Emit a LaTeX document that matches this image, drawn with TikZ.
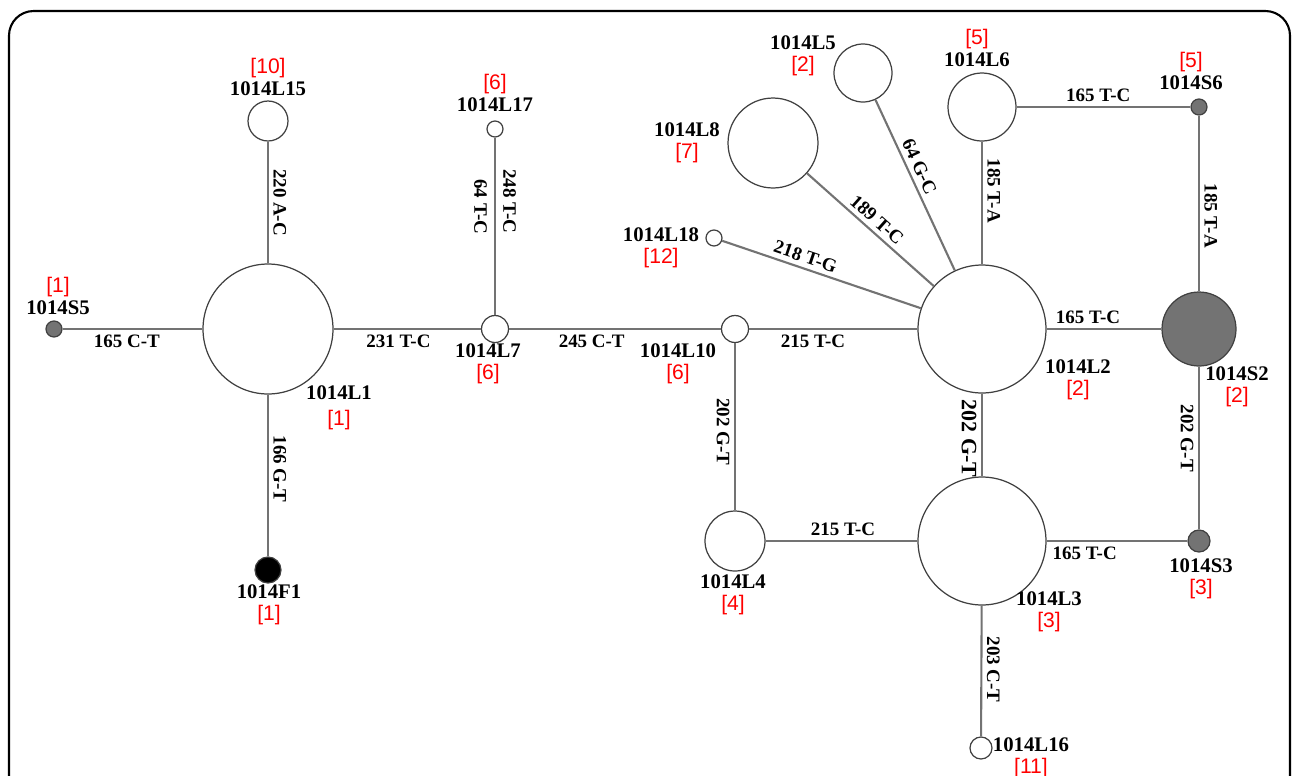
\documentclass[tikz,border=0pt]{standalone}
\usepackage{fontspec}
\setmainfont{Liberation Serif}
\newfontfamily\cntfont{Liberation Sans}
\newcommand{\cnt}[1]{{\cntfont\mdseries\fontsize{12}{13}\selectfont\color{red}[#1]}}

\begin{document}
\begin{tikzpicture}[x=0.02cm, y=-0.02cm,
      hap/.style={circle, draw=black!75, line width=0.7pt, fill=white, inner sep=0pt, minimum size=#1},
      sam/.style={hap=#1, fill=black!55},
      fly/.style={hap=#1, fill=black},
      link/.style={draw=black!55, line width=1.2pt},
      hname/.style={font=\bfseries\fontsize{11.8}{12.5}\selectfont, align=center, inner sep=0pt},
      mut/.style={font=\bfseries\fontsize{10.8}{12}\selectfont, inner sep=2.5pt},
      mutr/.style={mut, rotate=-90, anchor=south},
      mutl/.style={mut, rotate=-90, anchor=north}
      ]
      \useasboundingbox (0,0) rectangle (1292,775);
      \clip (0,0) rectangle (1292,775);
      \draw[line width=1.2pt, rounded corners=14] (9,800) -- (9,11) -- (1290,11) -- (1290,800);

      % haplotypes
      \node[hap=2.6cm] (L1) at (268,329) {};
      \node[hap=0.8cm] (L15) at (268,121) {};
      \node[sam=0.32cm] (S5) at (54,329) {};
      \node[fly=0.52cm] (F1) at (268,570) {};
      \node[hap=0.54cm] (L7) at (495,329) {};
      \node[hap=0.32cm] (L17) at (495,129) {};
      \node[hap=0.54cm] (L10) at (735,329) {};
      \node[hap=1.2cm] (L4) at (735,541) {};
      \node[hap=2.56cm] (L2) at (982,329) {};
      \node[hap=2.56cm] (L3) at (982,541) {};
      \node[hap=0.44cm] (L16) at (981,748) {};
      \node[hap=0.32cm] (L18) at (714,238) {};
      \node[hap=1.8cm] (L8) at (773,143) {};
      \node[hap=1.16cm] (L5) at (863,73) {};
      \node[hap=1.36cm] (L6) at (982,107) {};
      \node[sam=0.32cm] (S6) at (1199,107) {};
      \node[sam=1.48cm] (S2) at (1199,329) {};
      \node[sam=0.44cm] (S3) at (1199,541) {};

      % names and counts
      \node[hname] (tS5) at (58,296) {\cnt{1}\\1014S5};
      \node[hname] (tL15) at (268,77) {\cnt{10}\\1014L15};
      \node[hname] (tL17) at (495,93) {\cnt{6}\\1014L17};
      \node[hname] (tL5) at (803,56) {1014L5\\\cnt{2}};
      \node[hname] (tL6) at (977,48) {\cnt{5}\\1014L6};
      \node[hname] (tS6) at (1191,71) {\cnt{5}\\1014S6};
      \node[hname] (tL8) at (687,143) {1014L8\\\cnt{7}};
      \node[hname] (tL18) at (661,248) {1014L18\\\cnt{12}};
      \node[hname] (tL1) at (339,408) {1014L1\\[2pt]\cnt{1}};
      \node[hname] (tL7) at (488,364) {1014L7\\\cnt{6}};
      \node[hname] (tL10) at (678,364) {1014L10\\\cnt{6}};
      \node[hname] (tL2) at (1078,380) {1014L2\\\cnt{2}};
      \node[hname] (tS2) at (1237,387) {1014S2\\\cnt{2}};
      \node[hname] (tL4) at (733,595) {1014L4\\\cnt{4}};
      \node[hname] (tL3) at (1049,612) {1014L3\\\cnt{3}};
      \node[hname] (tS3) at (1201,579) {1014S3\\\cnt{3}};
      \node[hname] (tF1) at (269,605) {1014F1\\\cnt{1}};
      \node[hname] (tL16) at (1031,758) {1014L16\\\cnt{11}};

      % mutational steps
      \draw[link] (S5) -- node[mut, pos=.46, below] (m1) {165 C-T} (L1);
      \draw[link] (L1) -- node[mut, pos=.44, below] (m2) {231 T-C} (L7);
      \draw[link] (L7) -- node[mut, pos=.39, below] (m3) {245 C-T} (L10);
      \draw[link] (L10) -- node[mut, pos=.38, below] (m4) {215 T-C} (L2);
      \draw[link] (L2) -- node[mut, pos=.36, above] (m5) {165 T-C} (S2);
      \draw[link] (L4) -- node[mut, pos=.51, above] (m6) {215 T-C} (L3);
      \draw[link] (L3) -- node[mut, pos=.27, below] (m7) {165 T-C} (S3);
      \draw[link] (L6) -- node[mut, pos=.47, above] (m8) {165 T-C} (S6);
      \draw[link] (L1) -- node[mutr, pos=.5] (m9) {220 A-C} (L15);
      \draw[link] (L1) -- node[mutr, pos=.46] (m10) {166 G-T} (F1);
      \draw[link] (L7) -- node[mutl, pos=.61, inner sep=4pt] (m11) {64 T-C}
                           node[mutr, pos=.64, inner sep=4pt] (m12) {248 T-C} (L17);
      \draw[link] (L6) -- node[mutr, pos=.4] (m13) {185 T-A} (L2);
      \draw[link] (S6) -- node[mutr, pos=.57] (m14) {185 T-A} (S2);
      \draw[link] (L10) -- node[mutl, pos=.53] (m15) {202 G-T} (L4);
      \draw[link] (L2) -- node[mutl, pos=.54, font=\bfseries\fontsize{12.5}{14}\selectfont] (m16) {202 G-T} (L3);
      \draw[link] (S2) -- node[mutl, pos=.44] (m17) {202 G-T} (S3);
      \draw[link] (L3) -- node[mutr, pos=.49] (m18) {203 C-T} (L16);
      \draw[link] (L5) -- node[mut, pos=.42, sloped, above] (m19) {64 G-C} (L2);
      \draw[link] (L8) -- node[mut, pos=.49, sloped, above] (m20) {189 T-C} (L2);
      \draw[link] (L18) -- node[mut, pos=.40, sloped, above] (m21) {218 T-G} (L2);
    \end{tikzpicture}
\end{document}
